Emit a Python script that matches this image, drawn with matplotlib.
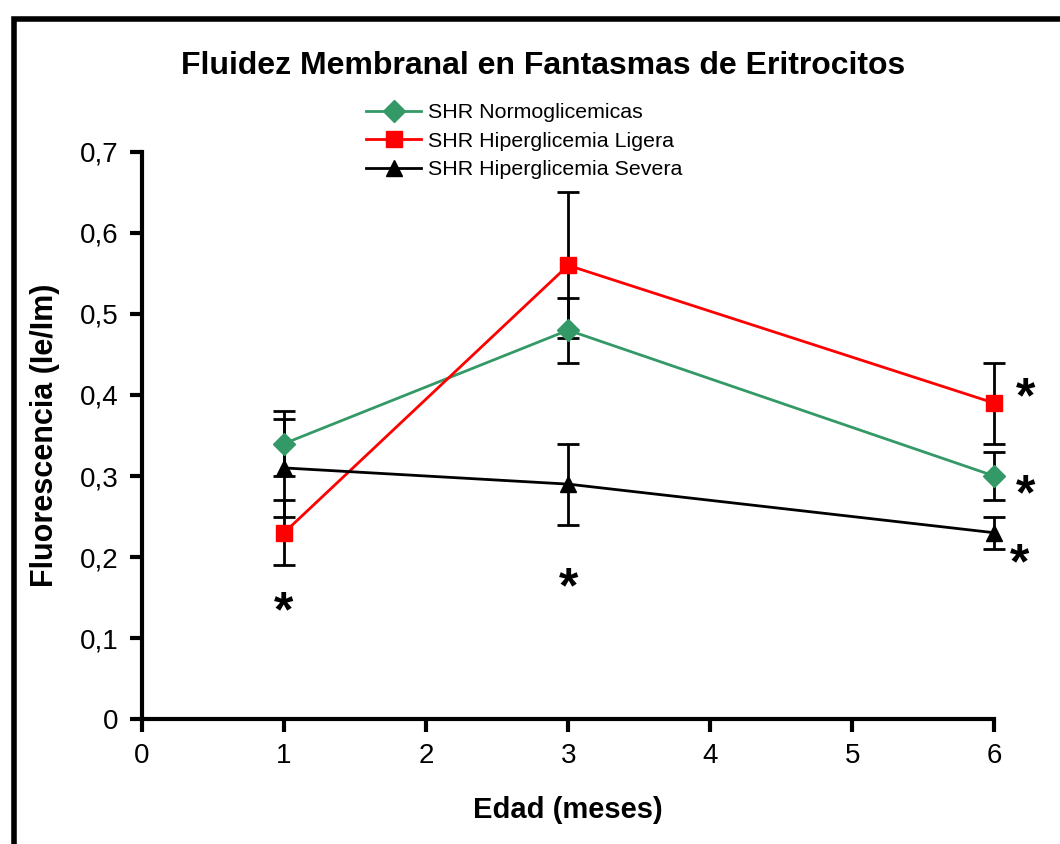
import matplotlib
matplotlib.use("Agg")
import matplotlib.pyplot as plt
from matplotlib.patches import Rectangle

plt.rcParams['font.family'] = ['Liberation Sans', 'DejaVu Sans']

# Edad en meses y fluorescencia media (Ie/Im) con su error
edad = [1, 3, 6]
normo = [0.34, 0.48, 0.30]
normo_err = [0.04, 0.04, 0.03]
ligera = [0.23, 0.56, 0.39]
ligera_err = [0.04, 0.09, 0.05]
severa = [0.31, 0.29, 0.23]
severa_err = [0.06, 0.05, 0.02]

# Posiciones de los asteriscos de significancia
ast_x = [1, 3, 6.22, 6.22, 6.18]
ast_y = [0.13, 0.16, 0.395, 0.275, 0.19]

fig = plt.figure(figsize=(10.6, 8.44), dpi=100)
ax = fig.add_axes([0.134, 0.148, 0.804, 0.672])

# Marco exterior
fig.patches.append(Rectangle((0.0135, -0.1), 1.2, 1.1 - 0.0225, transform=fig.transFigure,
                             fill=False, edgecolor='black', linewidth=4))

series = [
    (normo, normo_err, '#339966', 'D', 11, 'SHR Normoglicemicas'),
    (ligera, ligera_err, '#ff0000', 's', 12, 'SHR Hiperglicemia Ligera'),
    (severa, severa_err, 'black', '^', 12, 'SHR Hiperglicemia Severa'),
]
for vals, err, col, mk, ms, lab in series:
    eb = ax.errorbar(edad, vals, yerr=err, fmt='none', ecolor='black', elinewidth=2,
                     capsize=8, capthick=2, zorder=2)
    for art in eb.lines[1] + eb.lines[2]:
        art.set_clip_on(False)
    ax.plot(edad, vals, color=col, marker=mk, markersize=ms, linewidth=2,
            label=lab, zorder=3, clip_on=False)

for x, y in zip(ast_x, ast_y):
    ax.text(x, y, '*', fontsize=36, fontweight='bold', ha='center', va='center',
            clip_on=False)

ax.set_xlim(0, 6)
ax.set_ylim(0, 0.7)
ax.set_xticks(range(7))
ax.set_yticks([0, 0.1, 0.2, 0.3, 0.4, 0.5, 0.6, 0.7])
ax.set_yticklabels(['0', '0,1', '0,2', '0,3', '0,4', '0,5', '0,6', '0,7'])
ax.tick_params(labelsize=20, width=3, length=9, pad=8)
for s in ['top', 'right']:
    ax.spines[s].set_visible(False)
for s in ['left', 'bottom']:
    ax.spines[s].set_linewidth(3)

ax.set_xlabel('Edad (meses)', fontsize=21, fontweight='bold', labelpad=20)
ax.set_ylabel('Fluorescencia (Ie/Im)', fontsize=22, fontweight='bold', labelpad=14)
fig.text(0.512, 0.922, 'Fluidez Membranal en Fantasmas de Eritrocitos', fontsize=23,
         fontweight='bold', ha='center', va='center')

ax.legend(loc='upper left', bbox_to_anchor=(0.25, 1.105), frameon=False, fontsize=15.4,
          handlelength=2.6, handletextpad=0.3, labelspacing=0.45, borderpad=0)

fig.savefig('out.png', dpi=100)
